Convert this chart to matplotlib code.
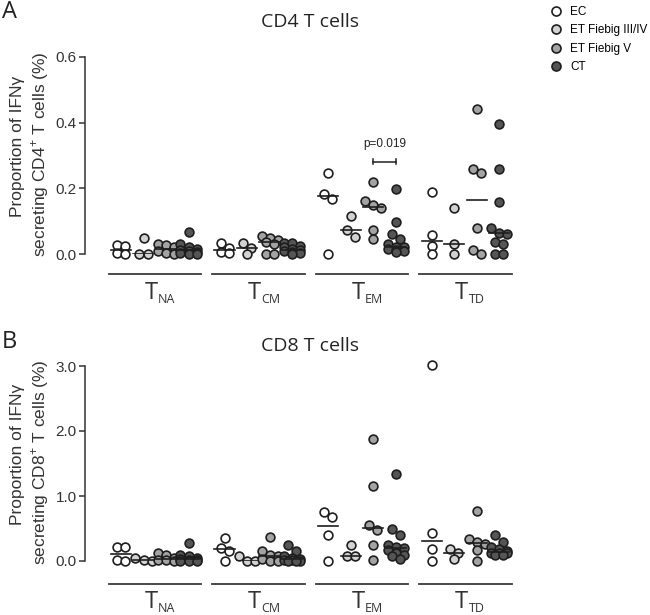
import matplotlib.pyplot as plt
import matplotlib.transforms as mtransforms
from matplotlib.lines import Line2D
import numpy as np

plt.rcParams['font.family'] = ['Liberation Sans', 'DejaVu Sans']
plt.rcParams['mathtext.fontset'] = 'custom'
plt.rcParams['mathtext.rm'] = 'Liberation Sans'

# data
subsets = ['NA', 'CM', 'EM', 'TD']
cohorts = ['EC', 'ET Fiebig III/IV', 'ET Fiebig V', 'CT']
fills = ['white', '#d2d2d2', '#a3a3a3', '#555555']

# CD4, each list: EC, ET III/IV, ET V, CT
cd4_na = [[0.027, 0.025, 0.002, 0.0],
          [0.048, 0.001, 0.0],
          [0.030, 0.027, 0.020, 0.008, 0.002, 0.0],
          [0.067, 0.030, 0.022, 0.015, 0.012, 0.010, 0.005, 0.003, 0.001, 0.0]]
cd4_cm = [[0.033, 0.018, 0.005, 0.003],
          [0.033, 0.018, 0.0],
          [0.056, 0.049, 0.043, 0.036, 0.030, 0.001, 0.0],
          [0.035, 0.032, 0.025, 0.020, 0.015, 0.012, 0.010, 0.005, 0.002, 0.0]]
cd4_em = [[0.247, 0.183, 0.168, 0.0],
          [0.116, 0.073, 0.052],
          [0.219, 0.161, 0.149, 0.140, 0.073, 0.046],
          [0.198, 0.097, 0.061, 0.046, 0.030, 0.022, 0.020, 0.015, 0.012, 0.010, 0.005]]
cd4_td = [[0.189, 0.058, 0.024, 0.0],
          [0.140, 0.030, 0.0],
          [0.442, 0.259, 0.247, 0.079, 0.012, 0.0],
          [0.396, 0.259, 0.158, 0.079, 0.064, 0.061, 0.037, 0.030, 0.001, 0.0]]

# CD8
cd8_na = [[0.22, 0.22, 0.01, 0.0],
          [0.05, 0.02, 0.0],
          [0.13, 0.10, 0.05, 0.02, 0.01, 0.0],
          [0.27, 0.10, 0.07, 0.05, 0.03, 0.02, 0.01, 0.0, 0.0, 0.0]]
cd8_cm = [[0.36, 0.20, 0.16, 0.0],
          [0.07, 0.005, 0.0],
          [0.37, 0.15, 0.10, 0.08, 0.03, 0.0, 0.0],
          [0.25, 0.15, 0.08, 0.05, 0.03, 0.02, 0.01, 0.0, 0.0, 0.0]]
cd8_em = [[0.75, 0.68, 0.40, 0.0],
          [0.25, 0.08, 0.08],
          [1.87, 1.15, 0.55, 0.48, 0.25, 0.02],
          [1.34, 0.49, 0.40, 0.25, 0.22, 0.20, 0.17, 0.12, 0.10, 0.08, 0.03]]
cd8_td = [[3.02, 0.43, 0.18, 0.0],
          [0.18, 0.12, 0.03],
          [0.77, 0.34, 0.30, 0.26, 0.17, 0.0],
          [0.40, 0.30, 0.22, 0.18, 0.15, 0.13, 0.12, 0.12, 0.10, 0.10]]

GSTEP = 4.6   # distance between subset groups
XPX = 22.5    # pixels per x unit
DIAM = 9.5    # marker diameter in pixels


def swarm(vals, ypx, maxrow=3):
    # spread points of similar value sideways, like a scatter dot plot
    vals = np.asarray(vals, float)
    order = np.argsort(-vals, kind='stable')
    offs = np.zeros(len(vals))
    rows = []
    for i in order:
        if rows and (vals[rows[-1][0]] - vals[i]) * ypx < 0.8 * DIAM and len(rows[-1]) < maxrow:
            rows[-1].append(i)
        else:
            rows.append([i])
    for row in rows:
        n = len(row)
        for j, i in enumerate(row):
            offs[i] = (j - (n - 1) / 2) * DIAM * 0.85 / XPX
    return offs


def draw_panel(ax, groups, ymax, ticks, uline_y, lab_y):
    ypx = 197.0 / ymax
    trans = mtransforms.blended_transform_factory(ax.transData, ax.transAxes)
    for g, grp in enumerate(groups):
        for s, vals in enumerate(grp):
            x0 = g * GSTEP + s
            offs = swarm(vals, ypx)
            ax.scatter(x0 + offs, vals, s=40, c=fills[s], edgecolors='#1e1e1e',
                       linewidths=1.2, zorder=3, clip_on=False)
            med = np.median(vals)
            ax.plot([x0 - 0.45, x0 + 0.45], [med, med], color='#1e1e1e', lw=1.2, zorder=4)
        gc = g * GSTEP + 1.5
        ax.plot([gc - 2.05, gc + 2.05], [uline_y, uline_y], color='#3a3a3a', lw=1.3,
                transform=trans, clip_on=False)
        ax.text(gc + 0.12, lab_y, 'T', transform=trans, ha='right', va='baseline',
                fontsize=17, family='Open Sans', color='#333333')
        ax.text(gc + 0.14, lab_y - 0.02, subsets[g], transform=trans, ha='left',
                va='baseline', fontsize=9, family='Open Sans', color='#333333')
    ax.set_xlim(-1.6, 17.5)
    ax.set_ylim(0, ymax)
    ax.set_yticks(ticks)
    ax.set_yticklabels(['%.1f' % t for t in ticks])
    for sp in ['top', 'right', 'bottom']:
        ax.spines[sp].set_visible(False)
    ax.spines['left'].set_color('#333333')
    ax.spines['left'].set_linewidth(1.1)
    ax.set_xticks([])
    ax.tick_params(axis='y', length=4, width=1.1, color='#333333', labelcolor='#333333',
                   labelsize=11, pad=2)


fig = plt.figure(figsize=(6.5, 6.15), dpi=100)
axA = fig.add_axes([85 / 650, 1 - 254 / 615, 430 / 650, 197 / 615])
axB = fig.add_axes([85 / 650, 1 - 561 / 615, 430 / 650, 195 / 615])

draw_panel(axA, [cd4_na, cd4_cm, cd4_em, cd4_td], 0.6, [0.0, 0.2, 0.4, 0.6],
           -0.1015, -0.228)
draw_panel(axB, [cd8_na, cd8_cm, cd8_em, cd8_td], 3.0, [0.0, 1.0, 2.0, 3.0],
           -0.118, -0.241)

# y labels, two lines each
fig.text(18 / 650, 1 - 146 / 615, 'Proportion of IFN\u03b3', rotation=90, ha='center',
         va='center', fontsize=12.5, color='#333333')
fig.text(40 / 650, 1 - 154 / 615, r'secreting CD4$^{+}$ T cells (%)', rotation=90,
         ha='center', va='center', fontsize=12.5, color='#333333')
fig.text(18 / 650, 1 - 454 / 615, 'Proportion of IFN\u03b3', rotation=90, ha='center',
         va='center', fontsize=12.5, color='#333333')
fig.text(40 / 650, 1 - 462 / 615, r'secreting CD8$^{+}$ T cells (%)', rotation=90,
         ha='center', va='center', fontsize=12.5, color='#333333')

# titles and panel letters
fig.text(310 / 650, 1 - 22 / 615, 'CD4 T cells', ha='center', va='center',
         fontsize=14, family='Open Sans', color='#222222')
fig.text(310 / 650, 1 - 346 / 615, 'CD8 T cells', ha='center', va='center',
         fontsize=14, family='Open Sans', color='#222222')
fig.text(2 / 650, 1 - 12 / 615, 'A', ha='left', va='center', fontsize=17,
         family='Open Sans', color='#222222')
fig.text(2 / 650, 1 - 342 / 615, 'B', ha='left', va='center', fontsize=17,
         family='Open Sans', color='#222222')

# p-value bracket (ET Fiebig V vs CT, T_EM)
xv = 2 * GSTEP + 2
xc = 2 * GSTEP + 3
yb = 0.281
axA.plot([xv, xc], [yb, yb], color='#222222', lw=1.1)
axA.plot([xv, xv], [yb - 0.008, yb + 0.008], color='#222222', lw=1.1)
axA.plot([xc, xc], [yb - 0.008, yb + 0.008], color='#222222', lw=1.1)
axA.text((xv + xc) / 2, 0.318, 'p=0.019', ha='center', va='bottom', fontsize=8.5, color='#222222')

# legend
handles = [Line2D([], [], ls='none', marker='o', markersize=6.5, markerfacecolor=f,
                  markeredgecolor='#1e1e1e', markeredgewidth=1.2) for f in fills]
fig.legend(handles, cohorts, loc='upper left', bbox_to_anchor=(550 / 650, 1 - 6 / 615),
           frameon=False, fontsize=8.5, handletextpad=0.7, labelspacing=0.55,
           handlelength=1.0, borderpad=0, borderaxespad=0)

fig.savefig('out.png', dpi=100)
